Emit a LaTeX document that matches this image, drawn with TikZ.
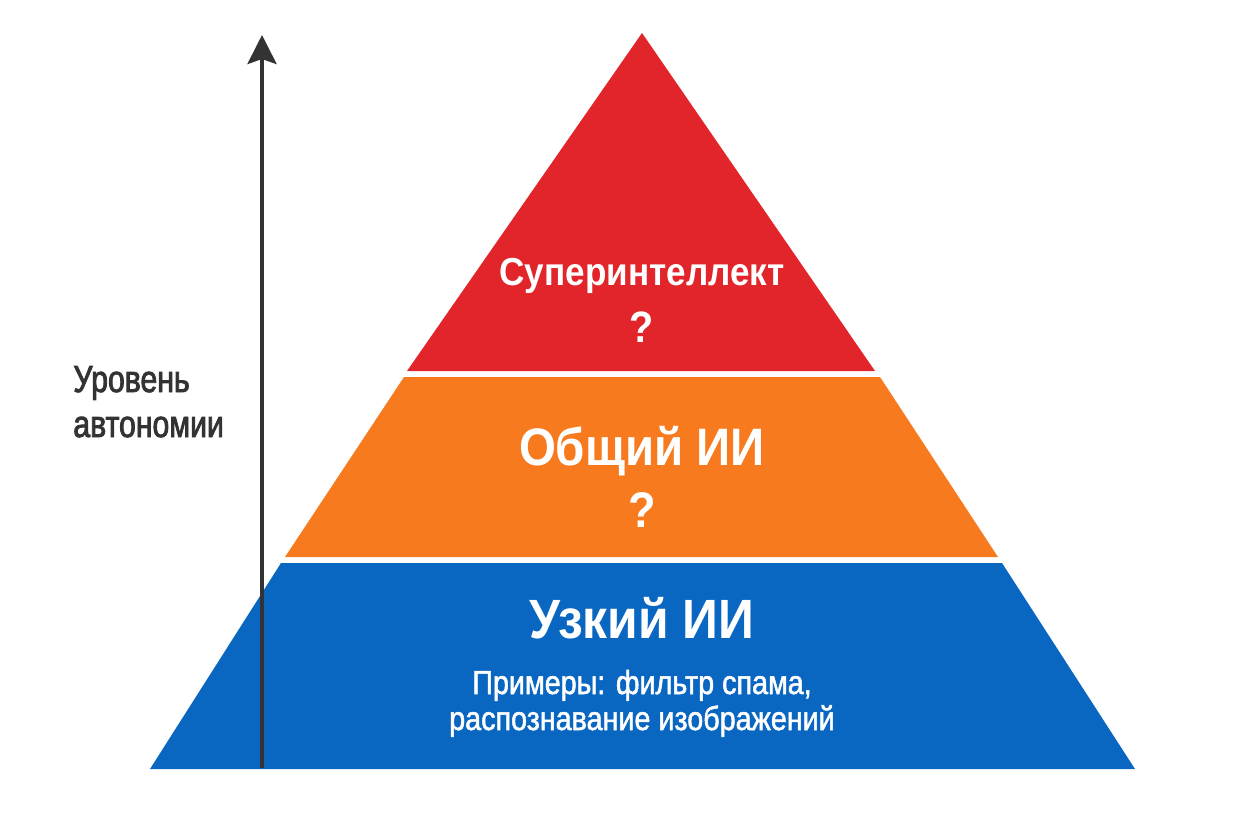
\documentclass[tikz,border=0pt]{standalone}
\usepackage{fontspec}
\usepackage{xcolor}
\usepackage{tikz}
\usetikzlibrary{arrows.meta}
\newfontfamily\policetitre[FakeStretch=0.9]{Liberation Sans}
\newfontfamily\policetexte[FakeStretch=0.86,FakeBold=1.5]{Liberation Sans}
\newfontfamily\policeaxe[FakeStretch=0.8,FakeBold=2.2]{Liberation Sans}
\definecolor{rougeSup}{HTML}{E2252B}
\definecolor{orangeGen}{HTML}{F77B1E}
\definecolor{bleuEtroit}{HTML}{0A67C1}
\definecolor{grisFonce}{HTML}{333333}
\begin{document}
\begin{tikzpicture}[x=0.02cm,y=-0.02cm]
% Styles (MODIFIABLES)
\tikzstyle{fleche}=[-{Stealth[length=0.58cm,width=0.58cm,inset=0.1cm]},line width=0.08cm,draw=grisFonce]
\tikzstyle{titre}=[anchor=base,inner sep=0,text=white,font=\policetitre\bfseries]
\tikzstyle{texte}=[anchor=base,inner sep=0,text=white,font=\policetexte]
\tikzstyle{etiquette}=[anchor=base west,inner sep=0,text=grisFonce,font=\policeaxe]
% Dimensions (MODIFIABLES)
\def\Centre{642}
\def\AxeFleche{262}
\def\Sommet{33}
\def\NiveauBas{769}
\useasboundingbox (0,0) rectangle (1248,832);
% Couches
\fill[rougeSup] (\Centre,\Sommet) -- (875,371) -- (407,371) -- cycle;
\fill[orangeGen] (404,377) -- (880,377) -- (998,557) -- (285,557) -- cycle;
\fill[bleuEtroit] (281,563) -- (1002,563) -- (1135,\NiveauBas) -- (150,\NiveauBas) -- cycle;
% Noeuds (MODIFIABLES : Styles et tailles)
\node[titre] (Sup) at (\Centre,285) {\fontsize{22.2}{26}\selectfont Суперинтеллект};
\node[titre] (SupQ) at (\Centre,342) {\fontsize{25}{30}\selectfont ?};
\node[titre] (Gen) at (\Centre,465) {\fontsize{30}{36}\selectfont Общий ИИ};
\node[titre] (GenQ) at (\Centre,527) {\fontsize{28.5}{34}\selectfont ?};
\node[titre] (Etr) at (\Centre,638) {\fontsize{31.5}{38}\selectfont Узкий ИИ};
\node[texte] (EtrA) at (\Centre,694) {\fontsize{19}{22}\selectfont Примеры: фильтр спама,};
\node[texte] (EtrB) at (\Centre,730) {\fontsize{19}{22}\selectfont распознавание изображений};
\node[etiquette] (AxeA) at (73,392) {\fontsize{21.5}{26}\selectfont Уровень};
\node[etiquette] (AxeB) at (73,437) {\fontsize{21.5}{26}\selectfont автономии};
% Fleche
\coordinate (BasFleche) at (\AxeFleche,\NiveauBas-1);
\coordinate (HautFleche) at (\AxeFleche,35);
\draw[fleche] (BasFleche)--(HautFleche);
\end{tikzpicture}
\end{document}
